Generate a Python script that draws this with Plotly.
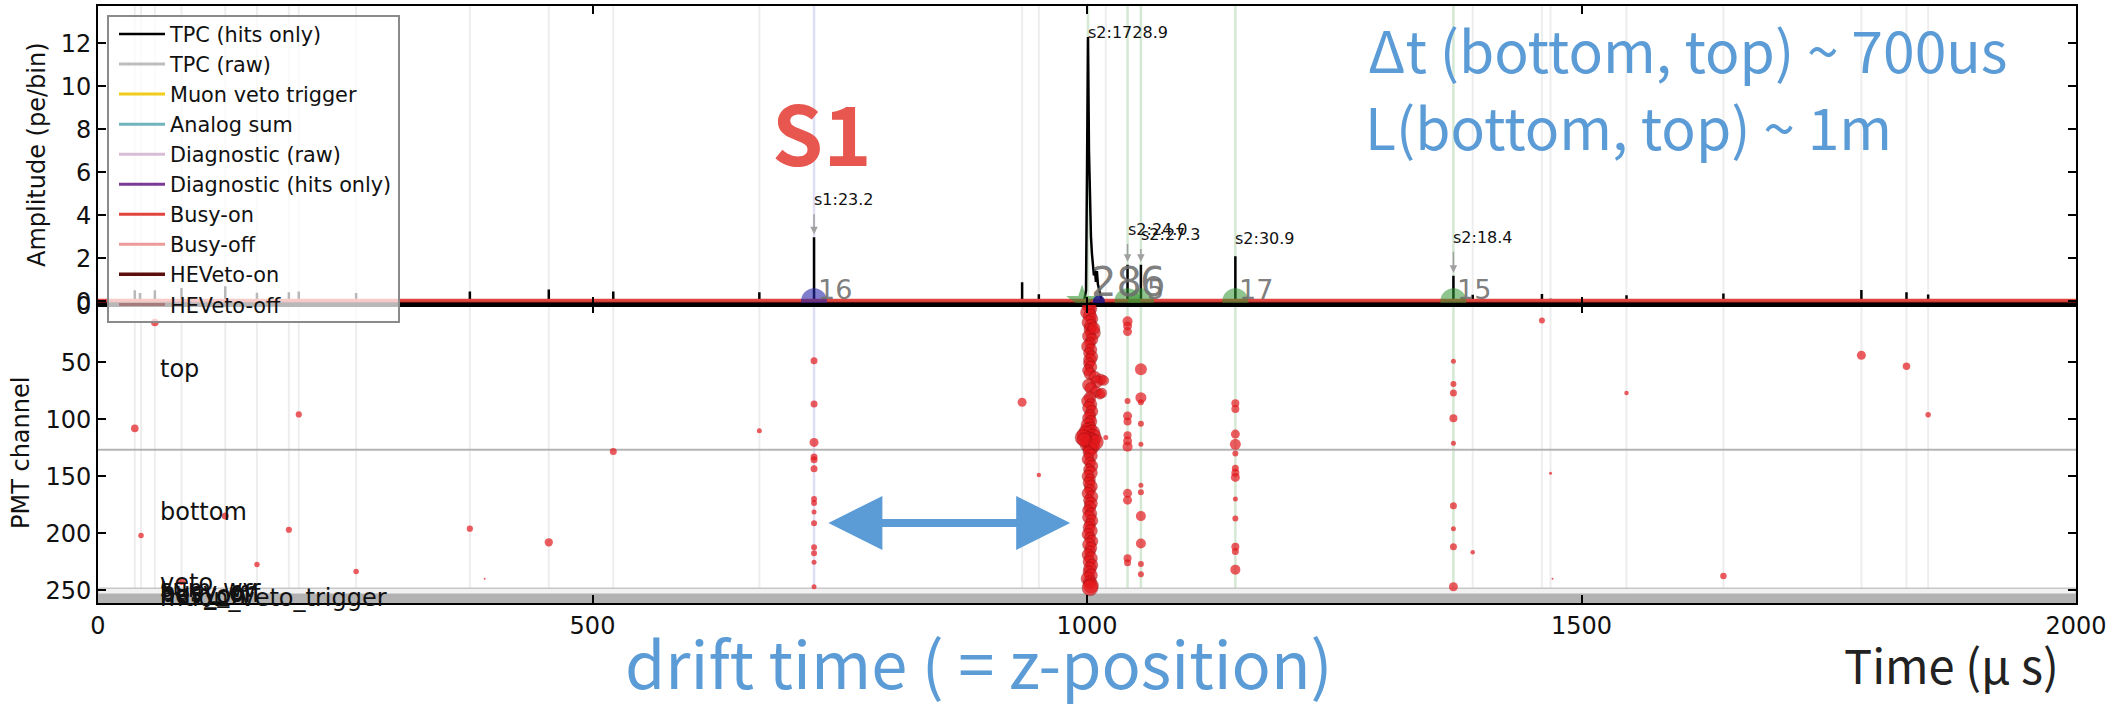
import plotly.graph_objects as go

# ---------------- summed TPC waveform (top panel) ----------------
# isolated single-hit pulses: time (us) and amplitude (pe/bin)
spike_time = [37.2, 42.5, 57.5, 84.4, 128.7, 160.7, 193, 203, 261, 376, 455.8, 521,
              668.7, 724, 934.4, 951.3, 1041, 1054.5, 1150, 1370.5, 1390, 1460,
              1468.7, 1545.5, 1643.5, 1783, 1828.6, 1850.5]
spike_height = [0.51, 0.39, 0.51, 0.62, 0.70, 0.40, 0.42, 0.46, 0.39, 0.45, 0.55, 0.45,
                0.42, 2.98, 0.88, 0.33, 1.70, 1.70, 2.09, 1.19, 0.30, 0.34,
                0.12, 0.28, 0.36, 0.53, 0.42, 0.31]
# main S2 pulse samples
s2_main_time = [997, 999, 1000, 1001, 1002, 1003, 1004, 1005, 1006, 1007, 1008,
                1009, 1010, 1011, 1013, 1015]
s2_main_amp = [0, 0.5, 6.0, 12.3, 7.0, 4.2, 3.0, 2.2, 1.6, 1.2, 1.5,
               0.9, 1.4, 0.8, 0.4, 0]

# ---------------- reconstructed peaks ----------------
peak_time = [724, 1001, 1041, 1054.5, 1150, 1370.5]
peak_kind = ["s1", "s2", "s2", "s2", "s2", "s2"]
peak_area = ["s1:23.2", "s2:1728.9", "s2:24.0", "s2:27.3", "s2:30.9", "s2:18.4"]
peak_height = [2.98, 12.3, 1.70, 1.70, 2.09, 1.19]
peak_label_y = [4.72, 12.53, 3.33, 3.10, 2.93, 2.97]
peak_nchan = ["16", "28", "6", "5", "17", "15"]
peak_nchan_size = [27, 40, 40, 27, 27, 27]
peak_nchan_shift = [2, 1, 10, 4, 2, 2]

# faint boundaries of lone-hit peaks
lone_peak_time = [37.2, 43.5, 57.5, 84.4, 128.7, 160.7, 193, 203, 261, 376, 455.8, 521,
                  668.7, 934.4, 951.3, 1019, 1390, 1460, 1468.7, 1545.5, 1643.5, 1783,
                  1828.6, 1850.5]

# ---------------- hits per PMT channel (bottom panel) ----------------
lone_hit_time = [37.2, 43.5, 57.5, 84.4, 128.7, 160.7, 193, 203, 261, 376, 391, 455.8,
                 521, 668.7, 934.4, 951.3, 1019, 1390, 1460, 1468.7, 1470.7, 1545.5,
                 1643.5, 1783, 1828.6, 1850.5]
lone_hit_channel = [108, 202, 15, 242.5, 185, 227.6, 197, 95.7, 233.7, 196, 240, 208,
                    128.2, 110, 85, 149, 116, 216.7, 13.3, 147.3, 240, 76.9,
                    237.6, 43.8, 53.5, 96]
lone_hit_size = [7.6, 5.5, 7.6, 7, 7, 5.5, 6.2, 6.2, 5.5, 6.2, 2, 8.3,
                 7, 5, 9, 4.5, 5, 4.5, 6, 3, 2, 4.5,
                 6.5, 9, 7.5, 5.5]

s1_hit_channel = [48.5, 86.6, 120.3, 133, 135.5, 143.5, 170, 173.6, 181.3, 191.2,
                  212.3, 217.6, 225.5, 247]
s1_hit_size = [7, 7, 9, 7, 7, 7, 6, 6, 5, 6, 6, 6, 5, 5]

main_hit_channel = [0, 3, 6, 9, 12, 15, 18, 21, 24, 27,
                    30, 33, 36, 39, 42, 45, 48, 51, 54, 57,
                    60, 63, 65, 67, 70, 73, 76, 78, 81, 84,
                    87, 90, 93, 96, 99, 102, 105, 108, 110, 112,
                    114, 116, 118, 120, 122, 124, 126, 129, 132, 135,
                    138, 141, 144, 147, 150, 153, 156, 159, 162, 165,
                    168, 171, 174, 177, 180, 183, 186, 189, 192, 195,
                    198, 201, 204, 207, 210, 213, 216, 219, 222, 225,
                    228, 231, 234, 237, 240, 243, 246, 248,
                    116, 120, 118, 66, 77, 20]
main_hit_time = [1002, 1004, 1001, 1003, 1005, 1002, 1004, 1003, 1006, 1002,
                 1005, 1003, 1001, 1004, 1002, 1005, 1003, 1002, 1004, 1001,
                 1003, 1008, 1014, 1010, 1002, 1004, 1009, 1013, 1003, 1001,
                 1004, 1002, 1005, 1003, 1002, 1004, 1001, 1003, 1000, 1005,
                 999, 1006, 1002, 1004, 1001, 1005, 1003, 1002, 1004, 1001,
                 1003, 1005, 1002, 1004, 1001, 1003, 1002, 1004, 1003, 1001,
                 1005, 1002, 1004, 1003, 1001, 1004, 1002, 1005, 1003, 1002,
                 1004, 1001, 1003, 1005, 1002, 1004, 1003, 1001, 1004, 1002,
                 1005, 1003, 1002, 1004, 1001, 1003, 1004, 1003,
                 996, 1009, 997, 1017, 1015, 1007]
main_hit_size = [14, 12, 15, 13, 12, 14, 13, 12, 15, 13,
                 12, 11, 13, 12, 11, 12, 13, 11, 12, 11,
                 12, 12, 11, 12, 13, 12, 11, 10, 12, 13,
                 12, 13, 12, 11, 13, 12, 14, 13, 15, 16,
                 18, 17, 16, 18, 16, 15, 14, 12, 13, 12,
                 11, 12, 11, 13, 12, 11, 12, 13, 11, 12,
                 12, 11, 13, 12, 11, 12, 13, 12, 11, 12,
                 13, 12, 11, 12, 13, 12, 11, 12, 13, 12,
                 12, 13, 12, 13, 14, 13, 15, 16,
                 16, 15, 14, 10, 10, 12]

s2a_hit_channel = [14, 18, 23, 84, 97, 102, 114, 119, 124, 165, 171, 222, 226]
s2a_hit_size = [10, 9, 9, 6, 9, 8, 8, 9, 10, 9, 9, 8, 7]
s2b_hit_channel = [56, 81, 85, 104, 122, 158, 164, 185, 209, 227, 236]
s2b_hit_size = [12, 11, 6, 6, 5, 5, 6, 10, 10, 6, 6]
s2c_hit_channel = [86, 91, 113, 122, 130, 143, 147, 151, 170, 187, 212, 216, 232]
s2c_hit_size = [8, 8, 9, 11, 6, 7, 8, 9, 5, 6, 8, 7, 10]
s2d_hit_channel = [49, 69, 77, 99, 121, 176, 196, 212, 247]
s2d_hit_size = [5, 6, 7, 8, 5, 7, 5, 7, 9]

# channel-group labels
group_label = ["top", "bottom", "veto", "sum_wv", "busy_on", "busy_off", "hev_on",
               "hev_off", "muon_veto_trigger"]
group_channel = [56, 181, 244, 249, 252, 253, 254, 255, 256.5]
top_bottom_boundary = 126.7
aux_channel_start = 248.3
aux_band_start = 253.5

x_ticks = [0, 500, 1000, 1500, 2000]

FONT = "DejaVu Sans"
CJK = "Noto Sans CJK JP"
RED = "#e3181c"
BLUE = "#5b9bd6"

# plot-area placement in pixels
W, H = 2123, 709
PL, PR, PT, PB = 98, 2076, 6, 603


def px_to_paper(px, py):
    return (px - PL) / (PR - PL), (PB - py) / (PB - PT)


fig = go.Figure()

# ---- waveform channels (legend entries) ----
legend_entries = [
    ("TPC (hits only)", "black"),
    ("TPC (raw)", "#bdbdbd"),
    ("Muon veto trigger", "#f2cc1b"),
    ("Analog sum", "#6fb3bd"),
    ("Diagnostic (raw)", "#d9bcd6"),
    ("Diagnostic (hits only)", "#7b3a96"),
    ("Busy-on", "#e0443c"),
    ("Busy-off", "#ee9a9a"),
    ("HEVeto-on", "#5c0d0d"),
    ("HEVeto-off", "#a87b7b"),
]
channel_level = [None, 0, 0, 0, 0, 0, 0.05, 0, -0.08, -0.1]
channel_width = [2.5, 3, 3, 3, 3, 3, 3, 3, 3.5, 3]
# drawing order: the trigger-state lines end up on top of the baseline
draw_order = [1, 2, 3, 4, 5, 7, 9, 8, 6]

# hits-only waveform: flat baseline plus pulses
wf_x, wf_y = [0, 2000, None], [0, 0, None]
for t, h in zip(spike_time, spike_height):
    wf_x += [t, t, None]
    wf_y += [0, h, None]
wf_x += s2_main_time
wf_y += s2_main_amp

fig.add_trace(go.Scatter(x=wf_x, y=wf_y, mode="lines", name=legend_entries[0][0],
                         line=dict(color="black", width=channel_width[0]),
                         xaxis="x", yaxis="y", legendrank=1))
for idx in draw_order:
    name, color = legend_entries[idx]
    lvl = channel_level[idx]
    fig.add_trace(go.Scatter(x=[0, 2000], y=[lvl, lvl], mode="lines", name=name,
                             line=dict(color=color, width=channel_width[idx]),
                             xaxis="x", yaxis="y", legendrank=idx + 1))

# ---- peak markers on the baseline ----
s1_idx = [i for i, k in enumerate(peak_kind) if k == "s1"]
s2_idx = [i for i, k in enumerate(peak_kind) if k == "s2" and i != 1]
fig.add_trace(go.Scatter(x=[peak_time[i] for i in s1_idx], y=[0] * len(s1_idx),
                         mode="markers", showlegend=False, cliponaxis=True,
                         marker=dict(size=26, color="rgba(40,40,170,0.6)"),
                         xaxis="x", yaxis="y"))
fig.add_trace(go.Scatter(x=[peak_time[i] for i in s2_idx], y=[0] * len(s2_idx),
                         mode="markers", showlegend=False, cliponaxis=True,
                         marker=dict(size=26, color="rgba(50,150,50,0.55)"),
                         xaxis="x", yaxis="y"))
fig.add_trace(go.Scatter(x=[995], y=[0], mode="markers", showlegend=False,
                         marker=dict(size=24, symbol="star", color="rgba(50,150,50,0.6)"),
                         xaxis="x", yaxis="y"))
fig.add_trace(go.Scatter(x=[1012], y=[0], mode="markers", showlegend=False,
                         marker=dict(size=12, color="rgba(20,20,130,0.85)"),
                         xaxis="x", yaxis="y"))
fig.add_trace(go.Scatter(x=[peak_time[1]], y=[13.95], mode="markers", showlegend=False,
                         cliponaxis=False,
                         marker=dict(size=11, symbol="triangle-down", color="black"),
                         xaxis="x", yaxis="y"))


# ---- hits per channel ----
def hits(times, channels, sizes, edge=0):
    fig.add_trace(go.Scatter(x=times, y=channels, mode="markers", showlegend=False,
                             marker=dict(size=sizes, color=RED,
                                         line=dict(width=edge, color="rgba(70,0,0,0.55)")),
                             xaxis="x2", yaxis="y2"))


hits(lone_hit_time, lone_hit_channel, lone_hit_size)
hits([peak_time[0]] * len(s1_hit_channel), s1_hit_channel, s1_hit_size)
hits([peak_time[2]] * len(s2a_hit_channel), s2a_hit_channel, s2a_hit_size)
hits([peak_time[3]] * len(s2b_hit_channel), s2b_hit_channel, s2b_hit_size)
hits([peak_time[4]] * len(s2c_hit_channel), s2c_hit_channel, s2c_hit_size)
hits([peak_time[5]] * len(s2d_hit_channel), s2d_hit_channel, s2d_hit_size)
hits(main_hit_time, main_hit_channel, main_hit_size, edge=0.6)

# ---- shapes: peak boundaries, channel bands, legend frame ----
shapes = []
for t in lone_peak_time:
    shapes.append(dict(type="line", xref="x", yref="paper", x0=t, x1=t, y0=0, y1=1,
                       line=dict(color="rgba(0,0,0,0.07)", width=2), layer="below"))
for t, k in zip(peak_time, peak_kind):
    col = "rgba(90,90,200,0.2)" if k == "s1" else "rgba(60,150,60,0.22)"
    shapes.append(dict(type="line", xref="x", yref="paper", x0=t, x1=t, y0=0, y1=1,
                       line=dict(color=col, width=2.5), layer="below"))
shapes.append(dict(type="line", xref="paper", yref="y2", x0=0, x1=1,
                   y0=top_bottom_boundary, y1=top_bottom_boundary,
                   line=dict(color="#b4b4b4", width=2), layer="below"))
shapes.append(dict(type="rect", xref="paper", yref="y2", x0=0, x1=1,
                   y0=aux_channel_start, y1=aux_band_start,
                   fillcolor="#f1f1f1", line=dict(color="#c8c8c8", width=1.5), layer="below"))
shapes.append(dict(type="rect", xref="paper", yref="y2", x0=0, x1=1,
                   y0=aux_band_start, y1=262,
                   fillcolor="#b2b2b2", line=dict(width=0), layer="below"))
lx0, ly0 = px_to_paper(108, 16)
lx1, ly1 = px_to_paper(399, 322)
shapes.append(dict(type="rect", xref="paper", yref="paper", x0=lx0, x1=lx1,
                   y0=ly1, y1=ly0, fillcolor="rgba(255,255,255,0.72)",
                   line=dict(color="#8a8a8a", width=2), layer="above"))

# ---- annotations ----
ann = []
for i, t in enumerate(peak_time):
    ann.append(dict(x=t, y=peak_label_y[i], xref="x", yref="y", text=peak_area[i],
                    showarrow=False, xanchor="left", yanchor="middle", xshift=-2,
                    font=dict(family=FONT, size=16, color="#111")))
    if i != 1:
        ann.append(dict(x=t, y=peak_height[i], xref="x", yref="y",
                        ax=t, ay=peak_label_y[i] - 0.6, axref="x", ayref="y",
                        text="", showarrow=True, arrowhead=2, arrowsize=1,
                        arrowwidth=1.5, arrowcolor="#a0a0a0", standoff=3))
    ann.append(dict(x=t, y=0, xref="x", yref="y", text=peak_nchan[i], showarrow=False,
                    xanchor="left", yanchor="bottom", xshift=peak_nchan_shift[i],
                    yshift=-6,
                    font=dict(family=FONT, size=peak_nchan_size[i],
                              color="rgba(110,110,110,0.9)")))

for lab, ch in zip(group_label, group_channel):
    ann.append(dict(x=61, y=ch, xref="x2", yref="y2", text=lab, showarrow=False,
                    xanchor="left", yanchor="middle",
                    font=dict(family=FONT, size=24, color="#111")))

# axis titles
for text, px, py in [("Amplitude (pe/bin)", 37, 155), ("PMT channel", 21, 453)]:
    xp, yp = px_to_paper(px, py)
    ann.append(dict(x=xp, y=yp, xref="paper", yref="paper", text=text, textangle=-90,
                    showarrow=False, xanchor="center", yanchor="middle",
                    font=dict(family=FONT, size=24, color="#111")))

# overlay notes
notes = [
    ("S1", 822, 130, 82, "#e8574f", "center", "bold"),
    ("Δt (bottom, top) ~ 700us", 1366, 48, 57, BLUE, "left", "normal"),
    ("L(bottom, top) ~ 1m", 1363, 125, 57, BLUE, "left", "normal"),
    ("drift time ( = z-position)", 623, 661, 65, BLUE, "left", "normal"),
    ("Time (μ s)", 1842, 663, 47, "#222222", "left", "normal"),
]
for text, px, py, size, color, anchor, weight in notes:
    xp, yp = px_to_paper(px, py)
    ann.append(dict(x=xp, y=yp, xref="paper", yref="paper", text=text,
                    showarrow=False, xanchor=anchor, yanchor="middle",
                    font=dict(family=CJK, size=size, color=color, weight=weight)))

# double-headed drift arrow
ann.append(dict(x=983, y=191, ax=737, ay=191, xref="x2", yref="y2",
                axref="x2", ayref="y2", text="", showarrow=True,
                arrowhead=2, startarrowhead=2, arrowside="end+start",
                arrowsize=1.35, startarrowsize=1.35, arrowwidth=8, arrowcolor=BLUE))

axis_common = dict(showline=True, linecolor="black", linewidth=2, mirror="ticks",
                   ticks="inside", ticklen=8, tickwidth=1.5, tickcolor="black",
                   showgrid=False, zeroline=False, automargin=False,
                   tickfont=dict(family=FONT, size=24, color="#111"))

legend_x, legend_y = px_to_paper(114, 14)

fig.update_layout(
    width=W, height=H,
    margin=dict(l=PL, r=W - PR, t=PT, b=H - PB, autoexpand=False),
    paper_bgcolor="white", plot_bgcolor="white",
    font=dict(family=FONT),
    shapes=shapes,
    annotations=ann,
    xaxis=dict(domain=[0, 1], anchor="y", range=[0, 2000], matches="x2",
               showticklabels=False, tickvals=x_ticks, **axis_common),
    yaxis=dict(domain=[0.5, 1], anchor="x", range=[-0.15, 13.74],
               tickvals=[0, 2, 4, 6, 8, 10, 12], **axis_common),
    xaxis2=dict(domain=[0, 1], anchor="y2", range=[0, 2000], tickvals=x_ticks,
                **axis_common),
    yaxis2=dict(domain=[0, 0.5], anchor="x2", range=[261.3, -0.8],
                tickvals=[0, 50, 100, 150, 200, 250], **axis_common),
    legend=dict(x=legend_x, y=legend_y, xanchor="left", yanchor="top",
                bgcolor="rgba(0,0,0,0)", borderwidth=0, itemwidth=46,
                font=dict(family=FONT, size=20.8, color="#111"), tracegroupgap=0,
                traceorder="normal"),
)

fig.write_html("out.html")
